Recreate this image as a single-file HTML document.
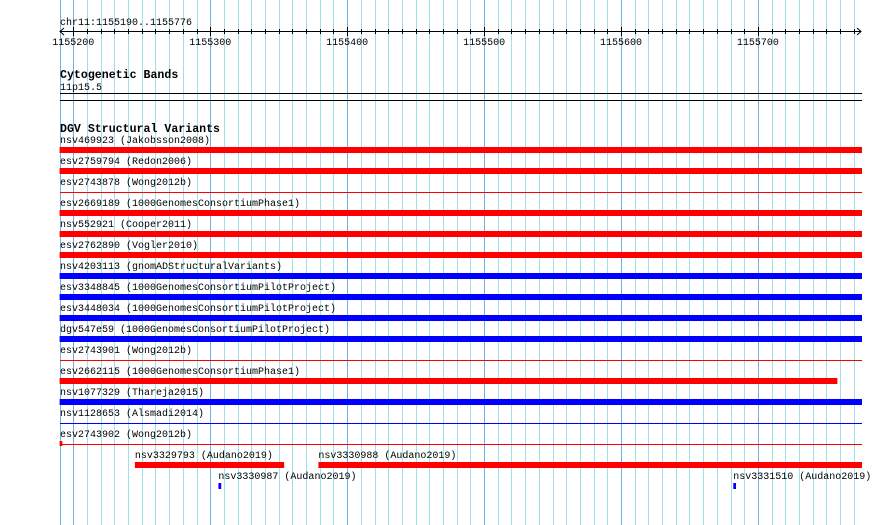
<!DOCTYPE html>
<html><head><meta charset="utf-8"><style>
body{margin:0;background:#fff;width:890px;height:525px;overflow:hidden}
svg{display:block}
text{font-family:"Liberation Mono",monospace;font-size:10px;fill:#000}
.b{font-weight:bold;font-size:11.6px}
</style></head><body>
<svg id="c" width="890" height="525"></svg>
<script>
const viewStart=1155190, viewEnd=1155776;
const tickLabels=[1155200,1155300,1155400,1155500,1155600,1155700];
const names=["nsv469923 (Jakobsson2008)","esv2759794 (Redon2006)","esv2743878 (Wong2012b)","esv2669189 (1000GenomesConsortiumPhase1)","nsv552921 (Cooper2011)","esv2762890 (Vogler2010)","nsv4203113 (gnomADStructuralVariants)","esv3348845 (1000GenomesConsortiumPilotProject)","esv3448034 (1000GenomesConsortiumPilotProject)","dgv547e59 (1000GenomesConsortiumPilotProject)","esv2743901 (Wong2012b)","esv2662115 (1000GenomesConsortiumPhase1)","nsv1077329 (Thareja2015)","nsv1128653 (Alsmadi2014)","esv2743902 (Wong2012b)"];
const starts=[1155190,1155190,1155190,1155190,1155190,1155190,1155190,1155190,1155190,1155190,1155190,1155190,1155190,1155190,1155190];
const ends=[1155776,1155776,1155776,1155776,1155776,1155776,1155776,1155776,1155776,1155776,1155776,1155758,1155776,1155776,1155192];
const colors=["red","red","red","red","red","red","blue","blue","blue","blue","red","red","blue","blue","red"];
const thick=[1,1,0,1,1,1,1,1,1,1,0,1,1,0,0];
const extraNames=["nsv3329793 (Audano2019)","nsv3330988 (Audano2019)","nsv3330987 (Audano2019)","nsv3331510 (Audano2019)"];
const extraStarts=[1155245,1155379,1155306,1155682];
const extraEnds=[1155354,1155776,1155308,1155684];
const extraColors=["red","red","blue","blue"];
const extraRow=[0,0,1,1];

const S=document.getElementById('c'),NS='http://www.w3.org/2000/svg';
const x=bp=>59.6+(bp-viewStart)*(862-59.6)/(viewEnd-viewStart);
function el(t,a,txt){const e=document.createElementNS(NS,t);for(const k in a)e.setAttribute(k,a[k]);if(txt!=null)e.textContent=txt;S.appendChild(e);return e;}
for(let bp=viewStart;bp<=viewEnd;bp+=10){
  const g=el('line',{x1:Math.round(x(bp))+.5,x2:Math.round(x(bp))+.5,y1:0,y2:525,stroke:(bp%100===0||bp===viewStart)?'#6fb2e8':'#9fe0ec','stroke-width':1});
  
  
}
let t=el('text',{x:60,y:25},'chr11:1155190..1155776');

let a=el('line',{x1:60,x2:861,y1:31.5,y2:31.5,stroke:'#000'});

el('path',{d:'M64 28 L60 31.5 L64 35 M857 28 L861 31.5 L857 35',stroke:'#000',fill:'none'});
for(let bp=viewStart+10;bp<viewEnd;bp+=10){
  const tk=el('line',{x1:Math.round(x(bp))+.5,x2:Math.round(x(bp))+.5,y1:bp%100===0?27:29,y2:bp%100===0?36:34,stroke:'#000'});
  
}
tickLabels.forEach(v=>{const l=el('text',{x:x(v),y:45,'text-anchor':'middle'},v);
  });
t=el('text',{x:60,y:78,class:'b'},'Cytogenetic Bands');

t=el('text',{x:60,y:90},'11p15.5');

el('line',{x1:60,x2:862,y1:93.5,y2:93.5,stroke:'#000'});
el('line',{x1:60,x2:862,y1:100.5,y2:100.5,stroke:'#000'});
t=el('text',{x:60,y:132,class:'b'},'DGV Structural Variants');

names.forEach((n,i)=>{
  const top=147+21*i;
  const l=el('text',{x:60,y:top-4},n);
  
  let r;
  if(thick[i]){r=el('rect',{x:x(starts[i]),y:top,width:x(ends[i])-x(starts[i]),height:6,fill:colors[i]});}
  else{
    r=el('rect',{x:60,y:top+3,width:802,height:1,fill:colors[i]});
    if(ends[i]-starts[i]<100){const m=el('rect',{x:x(starts[i]),y:top,width:Math.max(2,x(ends[i])-x(starts[i])),height:5,fill:colors[i]});
      }
  }
  
});
extraNames.forEach((n,i)=>{
  const top=462+21*extraRow[i];
  const l=el('text',{x:x(extraStarts[i]),y:top-4},n);
  
  const r=el('rect',{x:x(extraStarts[i]),y:top,width:Math.max(2,x(extraEnds[i])-x(extraStarts[i])),height:6,fill:extraColors[i]});
  
});
</script>
</body></html>
